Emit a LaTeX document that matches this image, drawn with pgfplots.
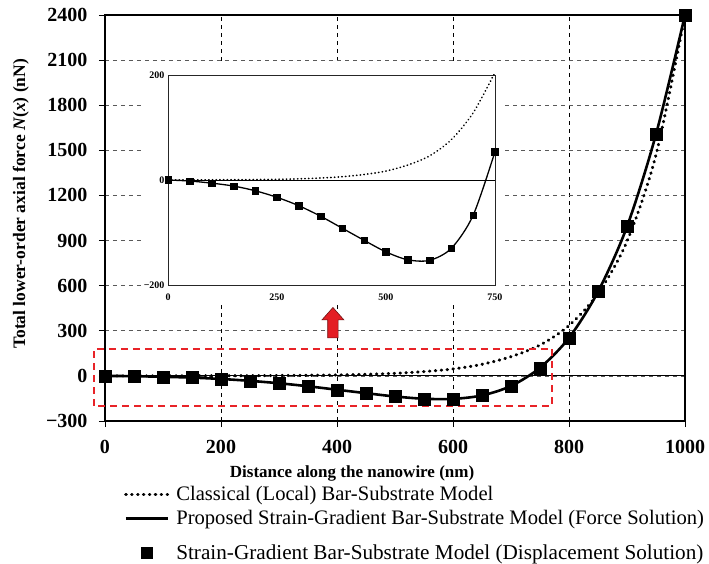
\documentclass[border=0pt]{standalone}
\usepackage{pgfplots}
\usepackage{pgfplotstable}
\pgfplotsset{compat=1.18}
\usepackage{fontspec}
\setmainfont{Liberation Serif}
\definecolor{boxred}{RGB}{232,35,40}
\definecolor{arrowred}{RGB}{228,30,36}
\definecolor{arrowedge}{RGB}{110,20,20}

\pgfplotstableread{
x y
0 0
50 -2
100 -6
150 -11.5
200 -20.5
250 -33
300 -49
350 -69
400 -92
450 -115
500 -137
550 -152
600 -153
650 -130
700 -67
750 54
800 253
850 560
900 993
950 1607
1000 2400
}\solidtable

\pgfplotstableread{
x y
0 0
50 -2
100 -6
150 -11.5
200 -20.5
250 -33
300 -49
350 -69
400 -92
450 -115
500 -137
550 -152
600 -153
650 -130
700 -67
750 54
}\insettable

\pgfplotstableread{
x y
0 0
100 0.3
200 0.8
250 1.2
300 2.2
350 3.8
400 6.3
450 10.5
500 17
550 28.5
600 46
650 77
700 128
750 205
800 335
850 548
900 895
950 1470
1000 2400
}\classtable

\pgfplotstableread{
x y
0 0
100 0.3
200 0.8
250 1.2
300 2.2
350 3.8
400 6.3
450 10.5
500 17
550 28.5
600 46
650 77
700 128
750 205
}\classinset

\begin{document}
\begin{tikzpicture}
\useasboundingbox (-105pt,-143pt) rectangle (604pt,421pt);
\begin{axis}[
  at={(0pt,0pt)}, anchor=south west,
  width=580pt, height=406pt, scale only axis,
  xmin=0, xmax=1000, ymin=-300, ymax=2400,
  clip=false,
  xtick={0,200,400,600,800,1000},
  xticklabels={0,200,400,600,800,1000},
  ytick={-300,0,300,600,900,1200,1500,1800,2100,2400},
  yticklabels={−300,0,300,600,900,1200,1500,1800,2100,2400},
  tick label style={font=\fontsize{20}{20}\selectfont\bfseries},
  yticklabel style={xshift=-8pt},
  xticklabel style={yshift=-10pt},
  tick align=outside, tick pos=left, major tick length=6pt,
  tick style={black, line width=0.6pt},
  axis line style={line width=1.6pt},
  xmajorgrids, ymajorgrids,
  x grid style={black, line width=0.6pt, dash pattern=on 4pt off 4pt},
  y grid style={black!65, line width=0.6pt, dash pattern=on 4pt off 4pt},
  xlabel={Distance along the nanowire (nm)},
  xlabel style={font=\fontsize{17}{17}\selectfont\bfseries, at={(axis description cs:0.426,0)}, anchor=north, inner sep=0pt, yshift=-45pt},
  ylabel={Total lower-order axial force \textit{N}(\textit{x}) (nN)},
  ylabel style={font=\fontsize{17.5}{17.5}\selectfont\bfseries, at={(axis description cs:-0.145,0.535)}, anchor=center, inner sep=0pt},
  legend style={at={(axis description cs:0,0)}, anchor=north west, xshift=19pt, yshift=-64pt,
    draw=none, fill=none, inner sep=0pt,
    font=\fontsize{20.6}{20.6}\selectfont,
    nodes={inner sep=1pt, text depth=0.2em}, row sep=6pt, column sep=6pt},
  legend cell align=left,
  legend image code/.code={\draw[#1] (0pt,0pt) -- (42pt,0pt);},
]
\draw[black, line width=0.8pt] (axis cs:0,0) -- (axis cs:1000,0);
\addplot[black, line width=3.1pt, dash pattern=on 0.5pt off 5.4pt, line cap=round, smooth] table {\classtable};
\addlegendentry{Classical (Local) Bar-Substrate Model}
\addplot[black, line width=2.6pt, smooth] table {\solidtable};
\addlegendentry{Proposed Strain-Gradient Bar-Substrate Model (Force Solution)}
\addplot[only marks, mark=square*, mark size=6pt, black,
  legend image code/.code={\path[draw=none,fill=none] (0pt,-5pt) rectangle (1pt,19pt); \fill[black] (15.5pt,-5.5pt) rectangle (26.5pt,5.5pt);}] table {\solidtable};
\addlegendentry{\fontsize{21.2}{21.2}\selectfont Strain-Gradient Bar-Substrate Model (Displacement Solution)}
\draw[boxred, line width=1.8pt, dash pattern=on 7pt off 5pt] (axis cs:-19,-200) rectangle (axis cs:771,180);
\draw[arrowedge, line width=0.6pt, fill=arrowred]
  (axis cs:393,455) -- (axis cs:412,372) -- (axis cs:402,372) -- (axis cs:402,253)
  -- (axis cs:384,253) -- (axis cs:384,372) -- (axis cs:374,372) -- cycle;
\end{axis}
\fill[white] (37pt,118pt) rectangle (398pt,357pt);
\begin{axis}[
  at={(63pt,136pt)}, anchor=south west,
  width=327pt, height=210pt, scale only axis,
  xmin=0, xmax=750, ymin=-200, ymax=200,
  xtick={0,250,500,750}, xticklabels={0,250,500,750},
  ytick={-200,0,200}, yticklabels={−200,0,200},
  tick label style={font=\fontsize{10}{10}\selectfont\bfseries},
  xticklabel style={yshift=-5pt},
  major tick length=0pt,
  axis line style={line width=0.9pt, black!85},
]
\draw[black, line width=0.6pt] (axis cs:0,0) -- (axis cs:750,0);
\addplot[black, line width=1.7pt, dash pattern=on 0.3pt off 3.4pt, line cap=round, smooth] table {\classinset};
\addplot[black, line width=1.3pt, smooth] table {\insettable};
\addplot[only marks, mark=square*, mark size=3.3pt, black] table {\insettable};
\end{axis}
\end{tikzpicture}
\end{document}
